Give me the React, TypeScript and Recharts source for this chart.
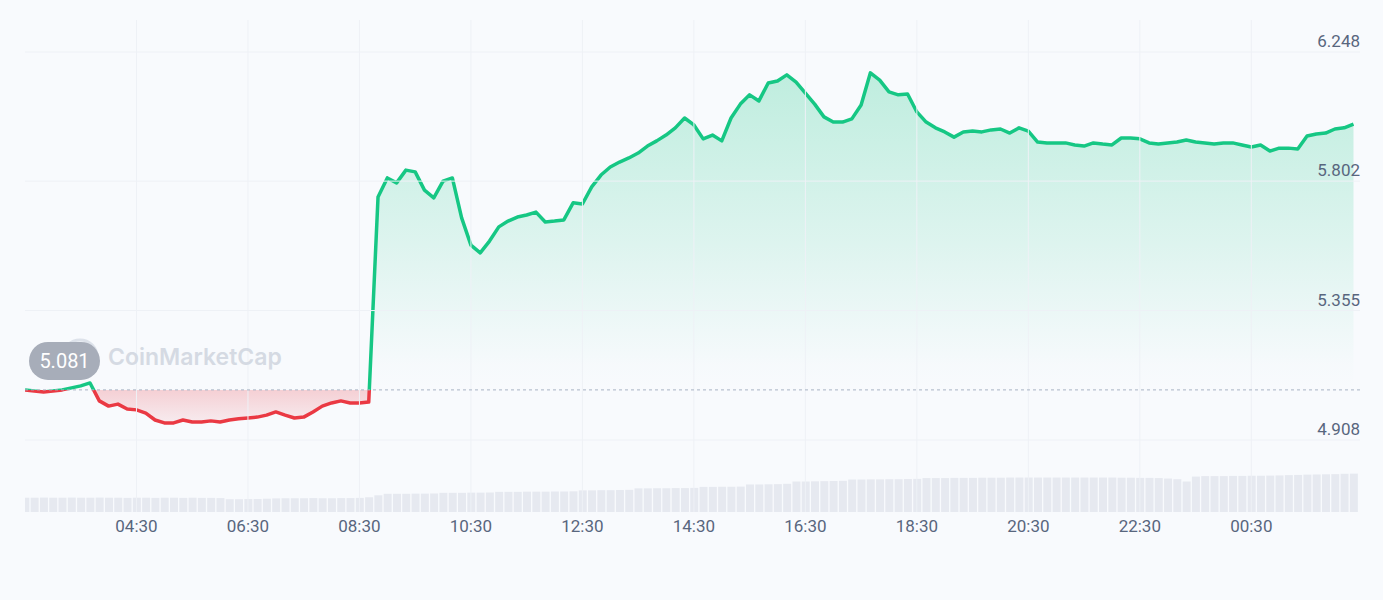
import React from "react";
import {
  ComposedChart,
  Area,
  Bar,
  XAxis,
  YAxis,
  ReferenceLine,
} from "recharts";

// 10-minute samples, minutes since 00:00 of the first day (02:30 -> 02:20 next day)
const START_MIN = 150;
const STEP_MIN = 10;

const PRICES = [
  5.081, 5.077, 5.074, 5.077, 5.081, 5.088, 5.095, 5.105, 5.043, 5.025,
  5.032, 5.015, 5.012, 5.001, 4.977, 4.967, 4.967, 4.977, 4.97, 4.97,
  4.974, 4.97, 4.977, 4.981, 4.984, 4.987, 4.994, 5.005, 4.994, 4.984,
  4.987, 5.005, 5.025, 5.036, 5.043, 5.036, 5.036, 5.039, 5.747, 5.813,
  5.796, 5.84, 5.834, 5.771, 5.744, 5.802, 5.813, 5.675, 5.581, 5.554,
  5.595, 5.644, 5.664, 5.678, 5.685, 5.695, 5.661, 5.664, 5.668, 5.727,
  5.723, 5.782, 5.823, 5.851, 5.868, 5.882, 5.899, 5.923, 5.941, 5.961,
  5.986, 6.02, 5.996, 5.948, 5.961, 5.941, 6.02, 6.068, 6.1, 6.079,
  6.141, 6.148, 6.169, 6.144, 6.106, 6.068, 6.024, 6.006, 6.006, 6.017,
  6.065, 6.176, 6.151, 6.11, 6.1, 6.103, 6.041, 6.006, 5.986, 5.972,
  5.954, 5.972, 5.975, 5.972, 5.979, 5.982, 5.968, 5.986, 5.975, 5.937,
  5.934, 5.934, 5.934, 5.927, 5.923, 5.934, 5.93, 5.927, 5.951, 5.951,
  5.948, 5.934, 5.93, 5.934, 5.937, 5.944, 5.937, 5.934, 5.93, 5.934,
  5.934, 5.927, 5.92, 5.927, 5.906, 5.916, 5.916, 5.913, 5.958, 5.965,
  5.968, 5.982, 5.986, 5.999,
];

// volume, millions
const VOLUMES = [
  8.7, 8.7, 8.8, 8.7, 8.7, 8.8, 8.7, 8.7, 8.8, 8.7,
  8.7, 8.6, 8.7, 8.7, 8.6, 8.7, 8.7, 8.6, 8.7, 8.6,
  8.6, 8.5, 7.8, 7.8, 7.9, 8.0, 8.1, 8.3, 8.4, 8.4,
  8.4, 8.5, 8.4, 8.4, 8.5, 8.5, 8.6, 9.0, 10.2, 11.1,
  11.1, 11.1, 11.2, 11.2, 11.3, 11.7, 11.7, 11.7, 11.8, 11.8,
  11.9, 12.3, 12.3, 12.3, 12.4, 12.4, 12.4, 12.5, 12.5, 12.6,
  13.2, 13.2, 13.3, 13.3, 13.4, 13.5, 14.4, 14.4, 14.5, 14.5,
  14.6, 14.6, 14.7, 15.3, 15.3, 15.4, 15.4, 15.5, 16.8, 16.8,
  16.9, 17.0, 17.2, 18.6, 18.6, 18.7, 18.8, 18.9, 19.0, 19.8,
  19.8, 19.9, 19.9, 20.0, 20.0, 20.1, 20.2, 20.7, 20.7, 20.7,
  20.8, 20.8, 20.8, 20.9, 20.9, 20.9, 21.0, 21.0, 21.0, 21.0,
  21.0, 21.0, 21.0, 21.0, 21.0, 21.0, 21.0, 21.0, 20.9, 20.9,
  20.8, 20.8, 20.7, 20.4, 20.0, 18.6, 21.6, 21.9, 21.9, 21.9,
  22.0, 22.0, 22.1, 22.1, 22.2, 22.3, 22.5, 22.6, 22.8, 22.9,
  23.0, 23.1, 23.3, 23.4,
];

const OPEN_PRICE = 5.081;
const PRICE_TICKS = [4.908, 5.355, 5.802, 6.248];
const TIME_TICKS = [270, 390, 510, 630, 750, 870, 990, 1110, 1230, 1350, 1470];

const data = PRICES.map((price, i) => ({
  t: START_MIN + i * STEP_MIN,
  price,
  volume: VOLUMES[i],
}));

const GREEN = "#16c784";
const RED = "#ea3943";
const TEXT = "#58667e";
const GRID = "#eef1f6";

const fmtTime = (m: number) => {
  const h = Math.floor(m / 60) % 24;
  const mm = m % 60;
  return `${String(h).padStart(2, "0")}:${String(mm).padStart(2, "0")}`;
};

const renderPriceTick = (props: any) => {
  const { x, y, payload } = props;
  return (
    <text
      key={payload.value}
      x={x}
      y={y - 11}
      textAnchor="end"
      dominantBaseline="central"
      fill={TEXT}
      fontSize={17}
      fontFamily="Roboto, sans-serif"
    >
      {Number(payload.value).toFixed(3)}
    </text>
  );
};

const OpenLabel = (props: any) => {
  const vb = props.viewBox || {};
  const x = vb.x ?? 25;
  const y = vb.y ?? 390;
  return (
    <g>
      <circle cx={x + 55} cy={y - 33} r={17} fill="none" stroke="#dde2ea" strokeWidth={3} />
      <text
        x={x + 83}
        y={y - 25}
        fill="#d5dae3"
        fontSize={23}
        fontWeight={600}
        fontFamily="Inter, sans-serif"
      >
        CoinMarketCap
      </text>
      <rect x={x + 4} y={y - 48} width={71} height={38} rx={19} fill="#a7adb9" />
      <text
        x={x + 39.5}
        y={y - 29}
        textAnchor="middle"
        dominantBaseline="central"
        fill="#ffffff"
        fontSize={20}
        fontFamily="Roboto, sans-serif"
      >
        {OPEN_PRICE.toFixed(3)}
      </text>
    </g>
  );
};

export default function App() {
  // baseline split for the colour change (plot area is y 20..512)
  const split = (390 - 20) / 492;
  return (
    <div
      style={{
        position: "absolute",
        left: 0,
        top: 0,
        width: 1383,
        height: 600,
        background: "#f8fafd",
      }}
    >
      <ComposedChart
        width={1383}
        height={600}
        data={data}
        margin={{ top: 20, right: 0, bottom: 58, left: 25 }}
      >
        <defs>
          <linearGradient id="strokeGrad" gradientUnits="userSpaceOnUse" x1="0" y1="20" x2="0" y2="512">
            <stop offset={0} stopColor={GREEN} />
            <stop offset={split} stopColor={GREEN} />
            <stop offset={split} stopColor={RED} />
            <stop offset={1} stopColor={RED} />
          </linearGradient>
          <linearGradient id="fillGrad" gradientUnits="userSpaceOnUse" x1="0" y1="20" x2="0" y2="512">
            <stop offset={0.09} stopColor={GREEN} stopOpacity={0.26} />
            <stop offset={0.45} stopColor={GREEN} stopOpacity={0.12} />
            <stop offset={0.7} stopColor={GREEN} stopOpacity={0.01} />
            <stop offset={split} stopColor={GREEN} stopOpacity={0} />
            <stop offset={split} stopColor={RED} stopOpacity={0.22} />
            <stop offset={0.84} stopColor={RED} stopOpacity={0.03} />
          </linearGradient>
        </defs>
        <XAxis
          dataKey="t"
          type="number"
          domain={[150, 1587]}
          ticks={TIME_TICKS}
          tickFormatter={fmtTime}
          axisLine={false}
          tickLine={false}
          tickMargin={2}
          height={30}
          tick={{ fill: TEXT, fontSize: 17, fontFamily: "Roboto, sans-serif" }}
          allowDataOverflow
        />
        <YAxis
          yAxisId="price"
          orientation="right"
          domain={[4.6593, 6.3585]}
          ticks={PRICE_TICKS}
          width={23}
          axisLine={false}
          tickLine={false}
          tickSize={0}
          tickMargin={0}
          tick={renderPriceTick}
          allowDataOverflow
        />
        <YAxis yAxisId="vol" hide domain={[0, 300]} />
        {TIME_TICKS.map((t) => (
          <ReferenceLine key={`v${t}`} yAxisId="price" x={t} stroke={GRID} />
        ))}
        {PRICE_TICKS.map((p) => (
          <ReferenceLine key={`h${p}`} yAxisId="price" y={p} stroke={GRID} />
        ))}
        <Bar
          yAxisId="vol"
          dataKey="volume"
          fill="#e6e9f0"
          barSize={8}
          isAnimationActive={false}
        />
        <ReferenceLine
          yAxisId="price"
          y={OPEN_PRICE}
          stroke="#a9b3c4"
          strokeDasharray="3 3"
          label={<OpenLabel />}
        />
        <Area
          yAxisId="price"
          type="linear"
          dataKey="price"
          baseValue={OPEN_PRICE}
          stroke="url(#strokeGrad)"
          strokeWidth={3.5}
          strokeLinejoin="round"
          fill="url(#fillGrad)"
          fillOpacity={1}
          dot={false}
          activeDot={false}
          isAnimationActive={false}
        />
      </ComposedChart>
    </div>
  );
}
